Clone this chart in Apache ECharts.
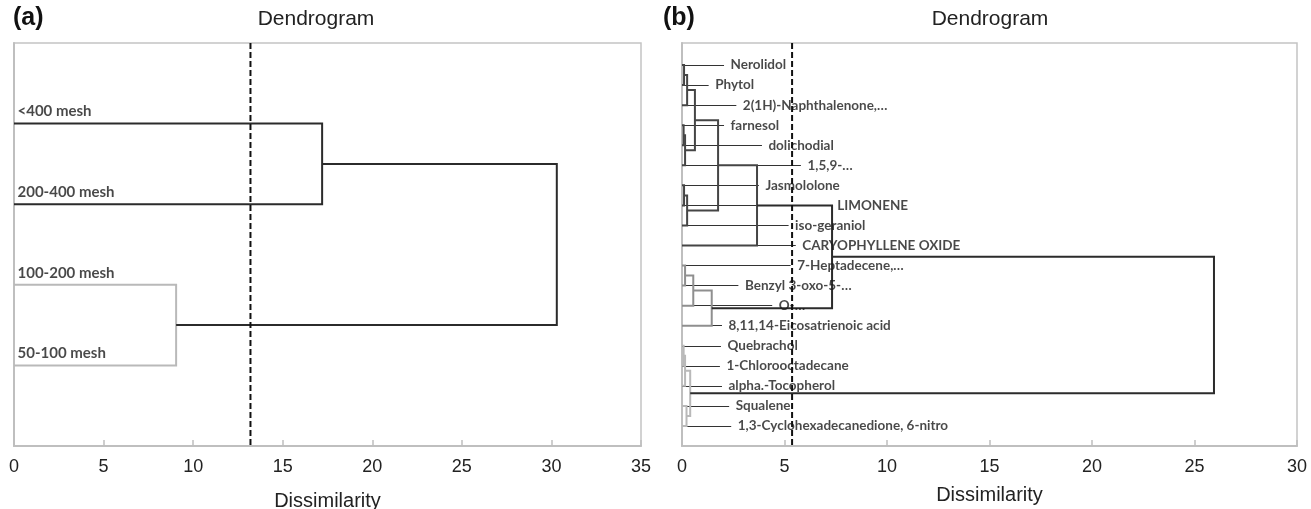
<!DOCTYPE html>
<html>
<head>
<meta charset="utf-8">
<script src="https://cdn.jsdelivr.net/npm/echarts@6/dist/echarts.min.js"></script>
<style>
  html, body { margin: 0; padding: 0; background: #ffffff; }
  #chart { width: 1311px; height: 509px; }
</style>
</head>
<body>
<div id="chart"></div>
<script>
// ---------- (a) particle-size fractions ----------
const meshNames = ['<400 mesh', '200-400 mesh', '100-200 mesh', '50-100 mesh'];
// [child A, child B, dissimilarity]; ids >= meshNames.length refer to earlier merges
const meshMerges = [[0, 1, 17.2], [2, 3, 9.05], [4, 5, 30.3]];
const meshGroups = ['top', 'light', 'top'];
const meshCut = 13.2;
const meshTicks = [0, 5, 10, 15, 20, 25, 30, 35];

// ---------- (b) volatile compounds ----------
const compoundNames = [
  'Nerolidol', 'Phytol', '2(1H)-Naphthalenone,…', 'farnesol', 'dolichodial',
  '1,5,9-…', 'Jasmololone', 'LIMONENE', 'iso-geraniol', 'CARYOPHYLLENE OXIDE',
  '7-Heptadecene,…', 'Benzyl 3-oxo-5-…', 'O-…', '8,11,14-Eicosatrienoic acid',
  'Quebrachol', '1-Chlorooctadecane', 'alpha.-Tocopherol', 'Squalene',
  '1,3-Cyclohexadecanedione, 6-nitro'
];
// dissimilarity where each label's leader line ends
const compoundLabelX = [
  2.05, 1.30, 2.65, 2.05, 3.90, 5.80, 3.75, 7.25, 5.20, 5.55,
  5.30, 2.75, 4.40, 1.95, 1.90, 1.85, 1.95, 2.30, 2.40
];
const compoundMerges = [
  [0, 1, 0.10], [19, 2, 0.25], [3, 4, 0.08], [21, 5, 0.15], [20, 22, 0.63],
  [6, 7, 0.10], [24, 8, 0.25], [23, 25, 1.76], [26, 9, 3.66],
  [10, 11, 0.15], [28, 12, 0.55], [29, 13, 1.45],
  [27, 30, 7.32],
  [14, 15, 0.08], [32, 16, 0.15], [17, 18, 0.22], [33, 34, 0.40],
  [31, 35, 25.95]
];
const compoundGroups = [
  'dark', 'dark', 'dark', 'dark', 'dark', 'dark', 'dark', 'dark', 'dark',
  'mid', 'mid', 'mid',
  'top',
  'light', 'light', 'light', 'light',
  'top'
];
const compoundCut = 5.37;
const compoundTicks = [0, 5, 10, 15, 20, 25, 30];

const groupColors = { top: '#2b2b2b', dark: '#454545', mid: '#8f8f8f', light: '#b9b9b9' };

// Builds the bracket polylines of a dendrogram: leaves sit on rows 0..n-1,
// each merge sits midway between its two children.
function buildBrackets(nLeaves, merges, groups) {
  const y = [], h = [];
  for (let i = 0; i < nLeaves; i++) { y.push(i); h.push(0); }
  const segs = [];
  merges.forEach(([a, b, ht], k) => {
    segs.push({
      coords: [[h[a], y[a]], [ht, y[a]], [ht, y[b]], [h[b], y[b]]],
      lineStyle: { color: groupColors[groups[k]] }
    });
    y.push((y[a] + y[b]) / 2);
    h.push(ht);
  });
  return segs;
}

const meshBrackets = buildBrackets(meshNames.length, meshMerges, meshGroups);
const compoundBrackets = buildBrackets(compoundNames.length, compoundMerges, compoundGroups);

const axisFont = '"Liberation Sans", Arial, sans-serif';
const labelFont = 'Lato, "Open Sans", sans-serif';

function xAxisFor(gridIndex, ticks) {
  return {
    gridIndex, type: 'value',
    min: ticks[0], max: ticks[ticks.length - 1], interval: ticks[1] - ticks[0],
    name: 'Dissimilarity', nameLocation: 'middle', nameGap: gridIndex === 0 ? 45 : 39,
    nameTextStyle: { fontFamily: axisFont, fontSize: 20, color: '#222' },
    axisLine: { onZero: false, lineStyle: { color: '#bfbfbf', width: 2 } },
    axisTick: { inside: true, length: 6, lineStyle: { color: '#bfbfbf', width: 1.5 } },
    axisLabel: { fontFamily: axisFont, fontSize: 18, color: '#222', margin: 12 },
    splitLine: { show: false }
  };
}
function yAxisFor(gridIndex, min, max) {
  return {
    gridIndex, type: 'value', inverse: true, min, max,
    axisLine: { show: true, onZero: false, lineStyle: { color: '#bfbfbf', width: 2 } },
    axisTick: { show: false }, axisLabel: { show: false }, splitLine: { show: false }
  };
}

const meshRange = [-1, meshNames.length];
const compoundRange = [-1.1, compoundNames.length];

const chart = echarts.init(document.getElementById('chart'), null, { renderer: 'canvas' });
chart.setOption({
  animation: false,
  backgroundColor: '#ffffff',
  grid: [
    { left: 14, top: 43, width: 627, height: 403, show: true, borderColor: '#c4c4c4', borderWidth: 1.5, containLabel: false, outerBoundsMode: 'none' },
    { left: 682, top: 43, width: 615, height: 403, show: true, borderColor: '#c4c4c4', borderWidth: 1.5, containLabel: false, outerBoundsMode: 'none' }
  ],
  xAxis: [xAxisFor(0, meshTicks), xAxisFor(1, compoundTicks)],
  yAxis: [yAxisFor(0, meshRange[0], meshRange[1]), yAxisFor(1, compoundRange[0], compoundRange[1])],
  graphic: [
    { type: 'text', x: 13, y: 18, style: { text: '(a)', font: 'bold 25px ' + axisFont, fill: '#111', textVerticalAlign: 'middle' } },
    { type: 'text', x: 316, y: 19, style: { text: 'Dendrogram', font: '21px ' + axisFont, fill: '#222', textAlign: 'center', textVerticalAlign: 'middle' } },
    { type: 'text', x: 663, y: 18, style: { text: '(b)', font: 'bold 25px ' + axisFont, fill: '#111', textVerticalAlign: 'middle' } },
    { type: 'text', x: 990, y: 19, style: { text: 'Dendrogram', font: '21px ' + axisFont, fill: '#222', textAlign: 'center', textVerticalAlign: 'middle' } }
  ],
  series: [
    // (a) brackets
    {
      type: 'lines', coordinateSystem: 'cartesian2d', xAxisIndex: 0, yAxisIndex: 0,
      polyline: true, silent: true, lineStyle: { width: 2, opacity: 1 },
      data: meshBrackets
    },
    // (a) leaf names
    {
      type: 'scatter', xAxisIndex: 0, yAxisIndex: 0, symbolSize: 1, silent: true,
      itemStyle: { color: 'rgba(0,0,0,0)' },
      label: {
        show: true, position: 'right', distance: 3, offset: [0, -12],
        formatter: p => meshNames[p.dataIndex],
        fontFamily: labelFont, fontWeight: 'bold', fontSize: 15, color: '#1a1a1a'
      },
      data: meshNames.map((n, i) => [0, i])
    },
    // (a) truncation line
    {
      type: 'line', xAxisIndex: 0, yAxisIndex: 0, symbol: 'none', silent: true,
      lineStyle: { color: '#111', width: 2, type: [6, 3] }, z: 5,
      data: [[meshCut, meshRange[0]], [meshCut, meshRange[1]]]
    },
    // (b) leader lines
    {
      type: 'lines', coordinateSystem: 'cartesian2d', xAxisIndex: 1, yAxisIndex: 1,
      polyline: false, silent: true, z: 2,
      lineStyle: { width: 1.1, color: '#333', opacity: 1 },
      data: compoundNames.map((n, i) => ({ coords: [[0, i], [compoundLabelX[i], i]] }))
    },
    // (b) brackets
    {
      type: 'lines', coordinateSystem: 'cartesian2d', xAxisIndex: 1, yAxisIndex: 1,
      polyline: true, silent: true, lineStyle: { width: 2, opacity: 1 },
      data: compoundBrackets
    },
    // (b) compound names
    {
      type: 'scatter', xAxisIndex: 1, yAxisIndex: 1, symbolSize: 1, silent: true,
      itemStyle: { color: 'rgba(0,0,0,0)' },
      label: {
        show: true, position: 'right', distance: 6,
        formatter: p => compoundNames[p.dataIndex],
        fontFamily: labelFont, fontWeight: 'bold', fontSize: 13.5, color: '#1a1a1a'
      },
      data: compoundNames.map((n, i) => [compoundLabelX[i], i])
    },
    // (b) truncation line
    {
      type: 'line', xAxisIndex: 1, yAxisIndex: 1, symbol: 'none', silent: true,
      lineStyle: { color: '#111', width: 2, type: [6, 3] }, z: 5,
      data: [[compoundCut, compoundRange[0]], [compoundCut, compoundRange[1]]]
    }
  ]
});
</script>
</body>
</html>
